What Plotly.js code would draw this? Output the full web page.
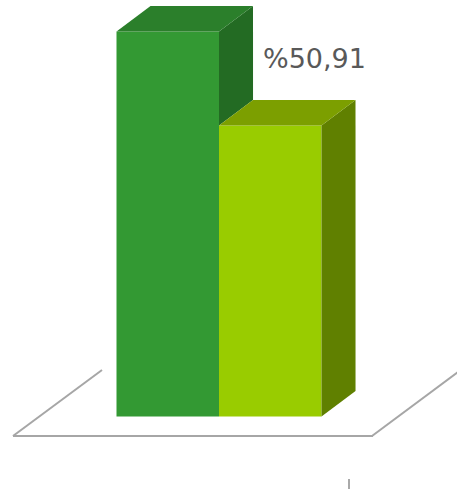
<!DOCTYPE html>
<html><head><meta charset="utf-8">
<script src="https://cdn.plot.ly/plotly-3.0.1.min.js"></script>
<style>html,body{margin:0;padding:0;background:#fff}#chart{width:457px;height:492px}</style>
</head><body><div id="chart"></div>
<script>
// ---- data ----
const categories = ['Seri 1', 'Seri 2'];
const values = [67.36, 50.91];
const valueLabels = ['', '%50,91'];

// ---- styles ----
const frontColors = ['#339933', '#99cc00'];
const topColors = ['#2b7f2b', '#7c9f00'];
const sideColors = ['#236b23', '#608000'];

const W = 457, H = 492;
const xRange = [-1.6366, 2.8219];
const yRange = [-13.21, 72.87];
const depthX = 0.332;   // oblique depth offset, x units
const depthY = 4.46;    // oblique depth offset, y units

const idx = categories.map((c, i) => i);
const traces = [];

// front faces as real bars
traces.push({
  type: 'bar', x: idx, y: values, width: 1,
  marker: {color: frontColors, line: {width: 0}},
  hoverinfo: 'skip', showlegend: false
});

// 3D side and top faces derived from values
idx.forEach(i => {
  const v = values[i];
  const next = (i + 1 < values.length) ? values[i + 1] : null;
  let bottom = 0;
  if (next !== null) bottom = next < v ? next : v;
  const r = i + 0.5, l = i - 0.5;
  if (bottom < v) {
    traces.push({
      type: 'scatter', mode: 'lines', fill: 'toself',
      x: [r, r, r + depthX, r + depthX, r],
      y: [bottom, v, v + depthY, bottom + depthY, bottom],
      fillcolor: sideColors[i], line: {width: 0, color: sideColors[i]},
      hoverinfo: 'skip', showlegend: false
    });
  }
  traces.push({
    type: 'scatter', mode: 'lines', fill: 'toself',
    x: [l, r, r + depthX, l + depthX, l],
    y: [v, v, v + depthY, v + depthY, v],
    fillcolor: topColors[i], line: {width: 0, color: topColors[i]},
    hoverinfo: 'skip', showlegend: false
  });
});

// floor frame (paper coords from pixel positions)
const px = x => x / W, py = y => 1 - y / H;
const floorColor = '#a6a6a6';
const shapes = [
  {type: 'line', xref: 'paper', yref: 'paper', x0: px(13), y0: py(436), x1: px(373), y1: py(436), line: {color: floorColor, width: 2}},
  {type: 'line', xref: 'paper', yref: 'paper', x0: px(13), y0: py(436), x1: px(102), y1: py(370), line: {color: floorColor, width: 2}},
  {type: 'line', xref: 'paper', yref: 'paper', x0: px(372), y0: py(436), x1: px(462), y1: py(369), line: {color: floorColor, width: 2}},
  {type: 'line', xref: 'paper', yref: 'paper', x0: px(349), y0: py(479), x1: px(349), y1: py(489), line: {color: '#8c8c8c', width: 1.5}}
];

const annotations = [];
idx.forEach(i => {
  if (valueLabels[i]) {
    annotations.push({
      x: i + 0.5 + depthX, y: values[i] + depthY, xref: 'x', yref: 'y',
      text: valueLabels[i], showarrow: false,
      xanchor: 'center', yanchor: 'middle', xshift: -41, yshift: 42,
      font: {family: 'DejaVu Sans, Verdana, sans-serif', size: 27, color: '#595959'}
    });
  }
});

const layout = {
  width: W, height: H, autosize: false,
  margin: {l: 0, r: 0, t: 0, b: 0, pad: 0},
  paper_bgcolor: '#ffffff', plot_bgcolor: '#ffffff',
  showlegend: false,
  xaxis: {range: xRange, visible: false, fixedrange: true},
  yaxis: {range: yRange, visible: false, fixedrange: true},
  shapes: shapes, annotations: annotations
};

Plotly.newPlot('chart', traces, layout, {displayModeBar: false, staticPlot: true});
</script></body></html>
